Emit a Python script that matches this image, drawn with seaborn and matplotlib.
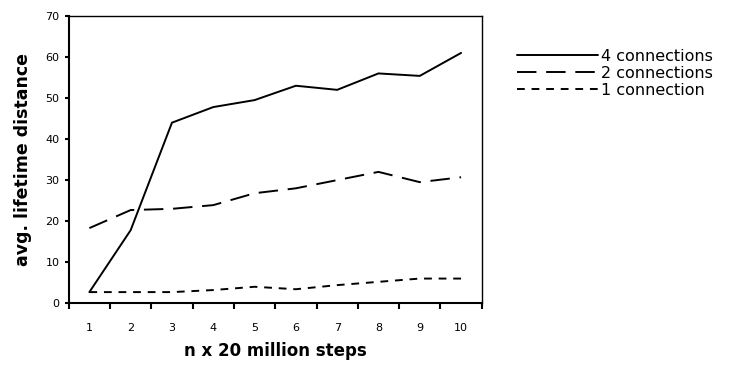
import numpy as np
import pandas as pd
import matplotlib
matplotlib.use("Agg")
import matplotlib.pyplot as plt
import seaborn as sns
from matplotlib.ticker import FixedLocator, NullFormatter

steps = [1, 2, 3, 4, 5, 6, 7, 8, 9, 10]
conn4 = [2.7, 17.8, 44, 47.8, 49.5, 53, 52, 56, 55.4, 61]
conn2 = [18.3, 22.7, 23, 23.9, 26.8, 28, 30, 32, 29.5, 30.7]
conn1 = [2.7, 2.7, 2.7, 3.2, 4.0, 3.4, 4.4, 5.2, 6.0, 6.0]
labels = ["4 connections", "2 connections", "1 connection"]

df = pd.DataFrame({
    "step": steps * 3,
    "value": conn4 + conn2 + conn1,
    "series": [labels[0]] * 10 + [labels[1]] * 10 + [labels[2]] * 10,
})

sns.set_style("white")
plt.rcParams["font.family"] = ["DejaVu Sans"]
plt.rcParams["text.color"] = "black"
plt.rcParams["axes.labelcolor"] = "black"
plt.rcParams["xtick.color"] = "black"
plt.rcParams["ytick.color"] = "black"

fig = plt.figure(figsize=(7.31, 3.72), dpi=100)
ax = fig.add_axes([0.094, 0.185, 0.565, 0.772])

sns.lineplot(data=df, x="step", y="value", style="series", hue="series",
             palette=["black"] * 3,
             dashes={labels[0]: "", labels[1]: (10, 5), labels[2]: (4, 3.5)},
             linewidth=1.4, ax=ax)

ax.set_xlim(0.5, 10.5)
ax.set_ylim(0, 70)
ax.set_yticks(range(0, 71, 10))
ax.xaxis.set_major_locator(FixedLocator(np.arange(0.5, 11, 1)))
ax.xaxis.set_major_formatter(NullFormatter())
ax.xaxis.set_minor_locator(FixedLocator(steps))
ax.set_xticklabels([str(s) for s in steps], minor=True)
ax.tick_params(axis="x", which="major", length=4, width=1.5, direction="out", bottom=True)
ax.tick_params(axis="x", which="minor", length=0, pad=14, labelsize=8)
ax.tick_params(axis="y", length=3, width=1.5, direction="out", left=True, labelsize=8)

for name, sp in ax.spines.items():
    sp.set_color("black")
    sp.set_linewidth(1.5 if name in ("left", "bottom") else 1.0)

ax.set_xlabel("n x 20 million steps", fontsize=12, fontweight="bold", labelpad=7)
ax.set_ylabel("avg. lifetime distance", fontsize=12.5, fontweight="bold", labelpad=10)

handles, lbls = ax.get_legend_handles_labels()
ax.legend(handles, lbls, loc="upper left", bbox_to_anchor=(1.05, 0.935),
          frameon=False, fontsize=11.5, handlelength=5.1, handletextpad=0.15,
          labelspacing=0.12)

fig.savefig("out.png", dpi=100)
